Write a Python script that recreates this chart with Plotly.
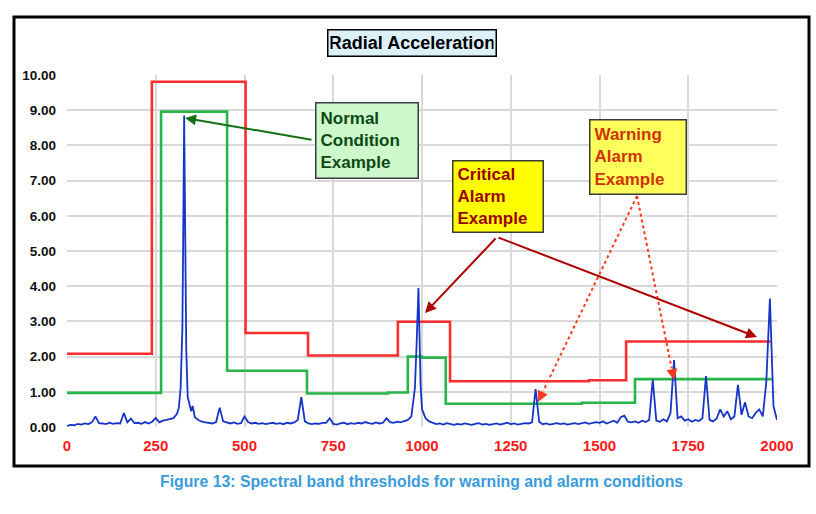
import plotly.graph_objects as go

# ---------------- data ----------------
# threshold bands (Hz edges, amplitude levels)
red_edges = [0, 239, 503, 679, 932, 1079, 1470, 1575, 1982]
red_levels = [2.08, 9.81, 2.67, 2.03, 2.99, 1.30, 1.33, 2.43]
green_edges = [0, 265, 451, 676, 904, 960, 1000, 1067, 1450, 1600, 1985]
green_levels = [0.97, 8.96, 1.60, 0.95, 0.98, 2.00, 1.97, 0.66, 0.69, 1.36]

# spectrum baseline, sampled every 10 Hz from 0 to 2000
spec_step = 10
spec_amp = [
    0.03, 0.06, 0.05, 0.09, 0.07, 0.10, 0.08, 0.13, 0.30, 0.11,
    0.10, 0.08, 0.12, 0.09, 0.11, 0.10, 0.40, 0.13, 0.24, 0.11,
    0.12, 0.09, 0.14, 0.10, 0.15, 0.26, 0.13, 0.18, 0.20, 0.22,
    0.25, 0.38, 1.10, 8.85, 0.85, 0.45, 0.28, 0.20, 0.15, 0.13,
    0.12, 0.10, 0.14, 0.55, 0.16, 0.12, 0.10, 0.13, 0.09, 0.11,
    0.30, 0.14, 0.10, 0.12, 0.09, 0.11, 0.08, 0.10, 0.12, 0.09,
    0.11, 0.08, 0.12, 0.10, 0.13, 0.20, 0.85, 0.16, 0.10, 0.08,
    0.10, 0.09, 0.12, 0.12, 0.25, 0.09, 0.07, 0.10, 0.12, 0.08,
    0.11, 0.09, 0.12, 0.10, 0.14, 0.11, 0.09, 0.13, 0.10, 0.12,
    0.25, 0.14, 0.12, 0.15, 0.13, 0.17, 0.20, 0.30, 1.10, 3.95,
    0.50, 0.25, 0.16, 0.12, 0.08, 0.10, 0.07, 0.11, 0.09, 0.06,
    0.09, 0.07, 0.10, 0.08, 0.06, 0.09, 0.11, 0.07, 0.09, 0.06,
    0.08, 0.10, 0.07, 0.09, 0.12, 0.08, 0.10, 0.07, 0.09, 0.11,
    0.10, 0.13, 1.08, 0.15, 0.08, 0.10, 0.07, 0.09, 0.11, 0.08,
    0.10, 0.07, 0.09, 0.11, 0.08, 0.10, 0.13, 0.09, 0.11, 0.14,
    0.12, 0.16, 0.10, 0.14, 0.18, 0.12, 0.28, 0.32, 0.15, 0.13,
    0.16, 0.12, 0.18, 0.14, 0.20, 1.35, 0.18, 0.15, 0.22, 0.16,
    0.40, 1.90, 0.25, 0.30, 0.18, 0.22, 0.15, 0.20, 0.17, 0.25,
    1.45, 0.20, 0.16, 0.24, 0.50, 0.30, 0.45, 0.22, 0.30, 1.20,
    0.35, 0.70, 0.30, 0.25, 0.40, 0.50, 0.30, 1.30, 3.65, 0.60,
    0.20,
]
# extra samples shaping the two large peaks
peak_hz = [315, 325, 327, 333, 336, 345, 354, 985, 988, 993, 996]
peak_amp = [0.55, 2.8, 5.0, 5.5, 2.2, 0.6, 0.6, 2.4, 3.5, 2.6, 1.2]

x_ticks = [0, 250, 500, 750, 1000, 1250, 1500, 1750, 2000]
y_ticks = [0, 1, 2, 3, 4, 5, 6, 7, 8, 9, 10]

# ---------------- build ----------------
spec = sorted(list(zip([i * spec_step for i in range(len(spec_amp))], spec_amp)) +
              list(zip(peak_hz, peak_amp)))
spec_x = [p[0] for p in spec]
spec_y = [p[1] for p in spec]

def steps(edges, levels):
    return list(edges), list(levels) + [levels[-1]]

rx, ry = steps(red_edges, red_levels)
gx, gy = steps(green_edges, green_levels)

fig = go.Figure()
fig.add_trace(go.Scatter(x=rx, y=ry, mode="lines", line=dict(color="#ff2d2d", width=2.6, shape="hv"),
                         hoverinfo="skip", showlegend=False))
fig.add_trace(go.Scatter(x=gx, y=gy, mode="lines", line=dict(color="#27b54a", width=2.6, shape="hv"),
                         hoverinfo="skip", showlegend=False))
fig.add_trace(go.Scatter(x=spec_x, y=spec_y, mode="lines", line=dict(color="#1535c8", width=1.8),
                         hoverinfo="skip", showlegend=False))

L, R, T, B = 67, 39, 75, 87
W, H = 816, 514
PW, PH = W - L - R, H - T - B

def dx(px):
    return (px - L) / PW * 2000

def dy(py):
    return (T + PH - py) / PH * 10

def pxp(px):
    return (px - L) / PW

def pyp(py):
    return (T + PH - py) / PH

tick_font = "Liberation Sans, Arial"
box_font = "Liberation Sans, Arial"

fig.update_layout(
    width=W, height=H,
    margin=dict(l=L, r=R, t=T, b=B),
    paper_bgcolor="white", plot_bgcolor="white",
    xaxis=dict(range=[0, 2000], tickvals=x_ticks, ticktext=[str(v) for v in x_ticks],
               showgrid=True, gridcolor="#d9d9d9", gridwidth=2, zeroline=False,
               showline=False, ticks="", ticklabelstandoff=8,
               tickfont=dict(family=tick_font, size=15, color="#ff1a1a", weight="bold")),
    yaxis=dict(range=[0, 10], tickvals=y_ticks, ticktext=["%.2f" % v for v in y_ticks],
               showgrid=True, gridcolor="#d9d9d9", gridwidth=2, zeroline=False,
               showline=False, ticks="", ticklabelstandoff=10,
               tickfont=dict(family=tick_font, size=13.5, color="#111111", weight="bold")),
)

# outer frame
fig.add_shape(type="rect", xref="paper", yref="paper",
              x0=pxp(14), x1=pxp(809), y0=pyp(466), y1=pyp(17),
              line=dict(color="black", width=3), layer="above")

anns = []
# title box
anns.append(dict(xref="paper", yref="paper", x=pxp(411.5), y=pyp(42.5), showarrow=False,
                 text="<b>Radial Acceleration</b>", xanchor="center", yanchor="middle",
                 font=dict(family=tick_font, size=18, color="black"),
                 bgcolor="#dcf0fa", bordercolor="black", borderwidth=1.5, borderpad=2,
                 width=163, height=21))
# caption
anns.append(dict(xref="paper", yref="paper", x=pxp(421), y=pyp(481), showarrow=False,
                 text="<b>Figure 13: Spectral band thresholds for warning and alarm conditions</b>",
                 xanchor="center", yanchor="middle",
                 font=dict(family=tick_font, size=15.8, color="#3a9bdc")))

# callout boxes
def box(cx, cy, w, h, text, fc, bg):
    return dict(xref="x", yref="y", x=dx(cx), y=dy(cy), showarrow=False, text=text,
                xanchor="center", yanchor="middle", align="left",
                font=dict(family=box_font, size=17, color=fc, weight="bold"),
                bgcolor=bg, bordercolor="#3a3a3a", borderwidth=1.5, borderpad=4,
                width=w - 11, height=h - 11)

anns.append(box(367, 140, 104, 77, "Normal<br>Condition<br>Example", "#0b4a12", "#ccf8cc"))
anns.append(box(498, 196, 92, 73, "Critical<br>Alarm<br>Example", "#9a0000", "#ffff00"))
anns.append(box(638, 157, 98, 76, "Warning<br>Alarm<br>Example", "#d23200", "#ffff5c"))

def arrow(tx, ty, hx, hy, color, width):
    return dict(xref="x", yref="y", axref="x", ayref="y", x=dx(hx), y=dy(hy),
                ax=dx(tx), ay=dy(ty), text="", showarrow=True, arrowhead=2,
                arrowsize=1.1, arrowwidth=width, arrowcolor=color, standoff=0)

anns.append(arrow(313, 140, 185, 118, "#137013", 2))
anns.append(arrow(497, 237, 425, 313, "#b00000", 2))
anns.append(arrow(497, 237, 757, 337, "#b00000", 2))

# dotted arrows (line as dotted shape + short arrow head)
for hx, hy in [(538, 402), (674, 380)]:
    tx, ty = 637, 196
    vx, vy = hx - tx, hy - ty
    n = (vx * vx + vy * vy) ** 0.5
    sx, sy = hx - vx / n * 12, hy - vy / n * 12
    fig.add_shape(type="line", xref="x", yref="y", x0=dx(tx), y0=dy(ty), x1=dx(sx), y1=dy(sy),
                  line=dict(color="#ff3a1a", width=2, dash="dot"))
    anns.append(dict(xref="x", yref="y", axref="x", ayref="y", x=dx(hx), y=dy(hy),
                     ax=dx(sx), ay=dy(sy), text="", showarrow=True, arrowhead=2,
                     arrowsize=1.1, arrowwidth=2, arrowcolor="#ff3a1a", standoff=0))

fig.update_layout(annotations=anns)
fig.write_html("out.html")
